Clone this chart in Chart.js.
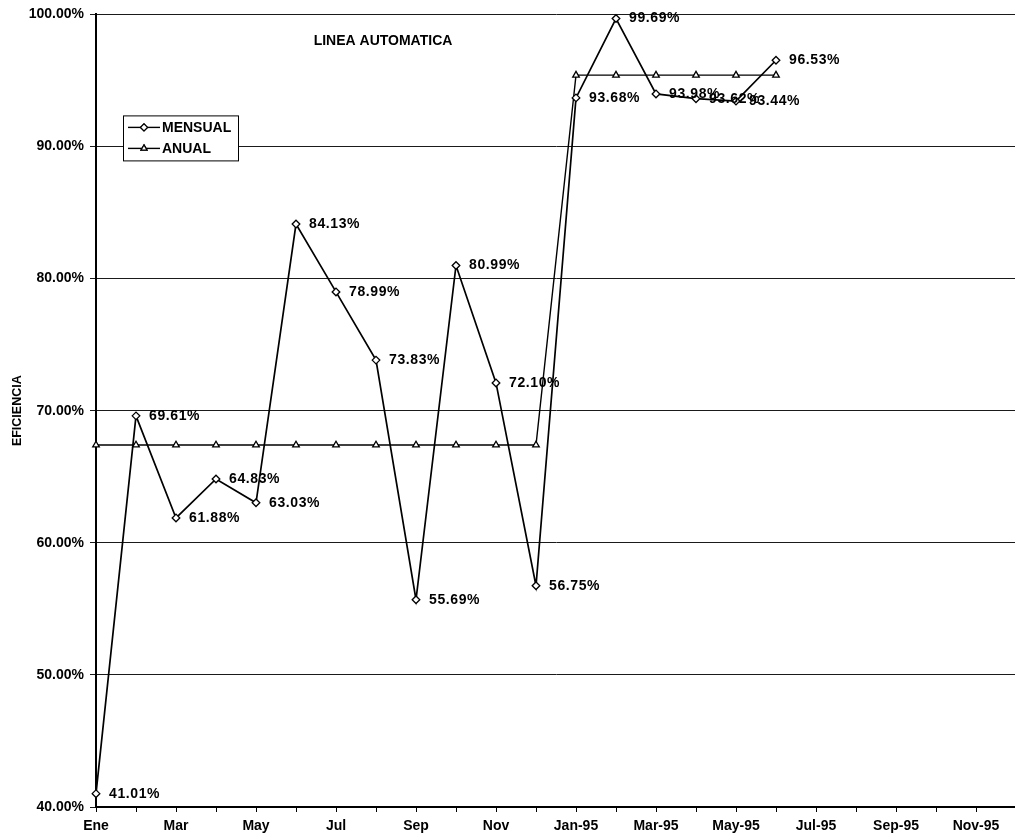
<!DOCTYPE html>
<html>
<head>
<meta charset="utf-8">
<script src="https://cdn.jsdelivr.net/npm/chart.js@4.4.1/dist/chart.umd.min.js"></script>
<style>
  html, body { margin: 0; padding: 0; background: #fff; overflow: hidden; }
  #wrap { width: 1022px; height: 840px; }
  #chart { width: 1022px; height: 840px; }
</style>
</head>
<body>
<div id="wrap"><canvas id="chart" width="1022" height="840"></canvas></div>
<script>
// Months of 1994 (first year) and 1995
const months = [
  'Ene', 'Feb', 'Mar', 'Abr', 'May', 'Jun', 'Jul', 'Ago', 'Sep', 'Oct', 'Nov', 'Dic',
  'Jan-95', 'Feb-95', 'Mar-95', 'Apr-95', 'May-95', 'Jun-95',
  'Jul-95', 'Aug-95', 'Sep-95', 'Oct-95', 'Nov-95', 'Dec-95'
];
// Only every other month carries a printed label
const shownLabels = ['Ene', 'Mar', 'May', 'Jul', 'Sep', 'Nov',
  'Jan-95', 'Mar-95', 'May-95', 'Jul-95', 'Sep-95', 'Nov-95'];

// Monthly efficiency (%)
const mensual = [
  41.01, 69.61, 61.88, 64.83, 63.03, 84.13, 78.99, 73.83, 55.69, 80.99, 72.10, 56.75,
  93.68, 99.69, 93.98, 93.62, 93.44, 96.53,
  null, null, null, null, null, null
];
// Yearly efficiency (%)
const anual = [
  67.4, 67.4, 67.4, 67.4, 67.4, 67.4, 67.4, 67.4, 67.4, 67.4, 67.4, 67.4,
  95.4, 95.4, 95.4, 95.4, 95.4, 95.4,
  null, null, null, null, null, null
];

const yMin = 40, yMax = 100, yStep = 10;
const chartTitle = 'LINEA AUTOMATICA';
const yTitle = 'EFICIENCIA';
const seriesNames = ['MENSUAL', 'ANUAL'];

const FONT = '"Liberation Sans", Arial, Helvetica, sans-serif';
Chart.defaults.font.family = FONT;
Chart.defaults.color = '#000';

// Title inside the plot, value labels and the boxed legend
const overlay = {
  id: 'overlay',
  afterDatasetsDraw(chart) {
    const { ctx, chartArea: a } = chart;
    ctx.save();

    // value labels of the monthly series
    const meta = chart.getDatasetMeta(0);
    ctx.font = 'bold 14px ' + FONT;
    ctx.letterSpacing = '0.6px';
    ctx.fillStyle = '#000';
    ctx.textAlign = 'left';
    ctx.textBaseline = 'middle';
    meta.data.forEach((pt, i) => {
      const v = mensual[i];
      if (v === null || v === undefined) return;
      ctx.fillText(v.toFixed(2) + '%', pt.x + 13, pt.y);
    });
    ctx.letterSpacing = '0px';

    // chart title
    ctx.font = 'bold 14px ' + FONT;
    ctx.textAlign = 'center';
    ctx.fillText(chartTitle, a.left + 287, a.top + 27);

    // legend box
    const bx = a.left + 27, by = a.top + 101, bw = 115, bh = 45;
    ctx.fillStyle = '#fff';
    ctx.fillRect(bx, by, bw, bh);
    ctx.strokeStyle = '#000';
    ctx.lineWidth = 1;
    ctx.strokeRect(bx + 0.5, by + 0.5, bw, bh);
    const styles = ['rectRot', 'triangle'];
    seriesNames.forEach((name, k) => {
      const ly = by + 12 + k * 21;
      ctx.beginPath();
      ctx.moveTo(bx + 5, ly);
      ctx.lineTo(bx + 37, ly);
      ctx.lineWidth = 1.4;
      ctx.strokeStyle = '#000';
      ctx.stroke();
      ctx.fillStyle = '#fff';
      ctx.lineWidth = 1.2;
      Chart.helpers.drawPoint(ctx, { pointStyle: styles[k], radius: 3.5, borderWidth: 1.2 }, bx + 21, ly);
      ctx.fill();
      ctx.stroke();
      ctx.fillStyle = '#000';
      ctx.font = 'bold 14px ' + FONT;
      ctx.textAlign = 'left';
      ctx.textBaseline = 'middle';
      ctx.fillText(name, bx + 39, ly + 1);
    });
    ctx.restore();
  }
};

new Chart(document.getElementById('chart'), {
  type: 'line',
  data: {
    labels: months,
    datasets: [
      {
        label: seriesNames[0],
        data: mensual,
        borderColor: '#000',
        borderWidth: 1.7,
        pointStyle: 'rectRot',
        pointRadius: 3.8,
        pointBackgroundColor: '#fff',
        pointBorderColor: '#000',
        pointBorderWidth: 1.3,
        tension: 0,
        clip: false
      },
      {
        label: seriesNames[1],
        data: anual,
        borderColor: '#000',
        borderWidth: 1.4,
        pointStyle: 'triangle',
        pointRadius: 3.8,
        pointBackgroundColor: '#fff',
        pointBorderColor: '#000',
        pointBorderWidth: 1.3,
        tension: 0,
        clip: false
      }
    ]
  },
  options: {
    responsive: false,
    devicePixelRatio: 1,
    animation: false,
    layout: { padding: { top: 14, right: 1, left: 0, bottom: 0 } },
    plugins: {
      legend: { display: false },
      tooltip: { enabled: false },
      title: { display: false }
    },
    scales: {
      x: {
        type: 'category',
        offset: false,
        grid: { drawOnChartArea: false, color: '#000', tickLength: 5, lineWidth: 1 },
        border: { display: true, color: '#000', width: 2 },
        ticks: {
          autoSkip: false,
          maxRotation: 0,
          padding: 6,
          font: { size: 14, weight: 'bold' },
          color: '#000',
          callback: function (value, index) {
            const lab = months[index];
            return shownLabels.includes(lab) ? lab : '';
          }
        },
        afterFit(scale) { scale.height = 33; }
      },
      y: {
        min: yMin,
        max: yMax,
        grid: { color: '#1a1a1a', lineWidth: 1, tickLength: 6 },
        border: { display: true, color: '#000', width: 2 },
        ticks: {
          stepSize: yStep,
          padding: 6,
          font: { size: 14, weight: 'bold' },
          color: '#000',
          callback: (v) => Number(v).toFixed(2) + '%'
        },
        title: {
          display: true,
          text: yTitle,
          font: { size: 12.5, weight: 'bold' },
          color: '#000',
          padding: { top: 10, bottom: 0 }
        },
        afterFit(scale) { scale.width = 96; }
      }
    }
  },
  plugins: [overlay]
});
</script>
</body>
</html>
